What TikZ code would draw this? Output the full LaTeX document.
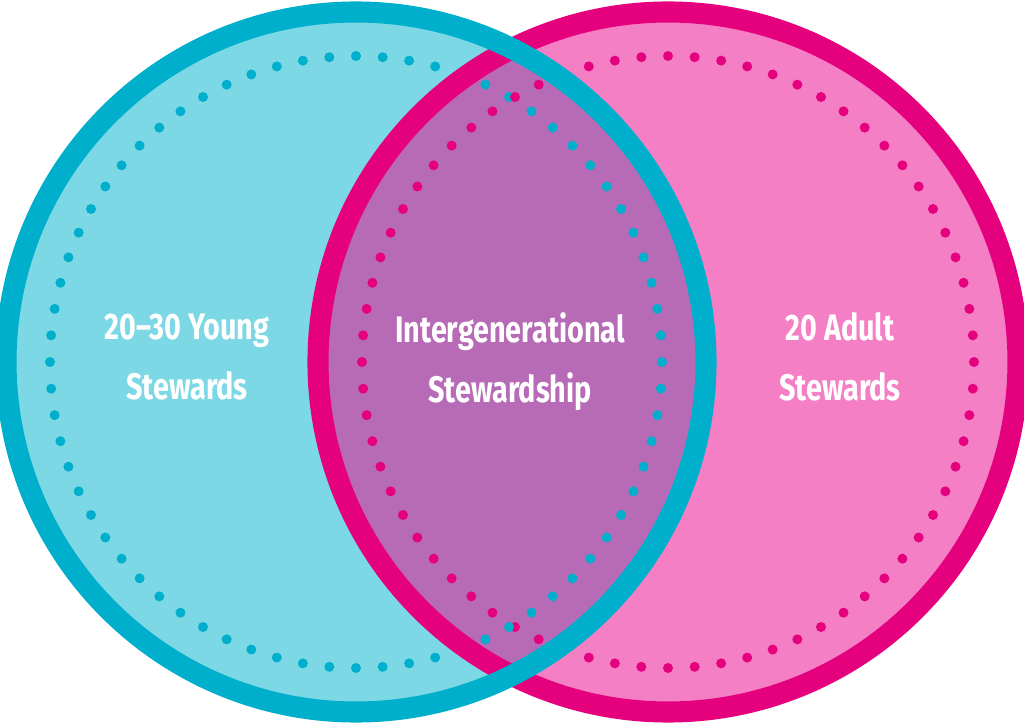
\documentclass[tikz,border=0pt]{standalone}
\usepackage{fontspec}
\setmainfont{Fira Sans}
\usetikzlibrary{calc}
\definecolor{cyanring}{HTML}{00AFCB}
\definecolor{cyanfill}{HTML}{7DD8E6}
\definecolor{pinkring}{HTML}{E5007E}
\definecolor{pinkfill}{HTML}{F47FC4}
\definecolor{midfill}{HTML}{B76BB7}
\begin{document}
\begin{tikzpicture}[label/.style = {text=white, font=\bfseries\fontsize{21}{34}\selectfont, align=center, xscale=0.78, transform shape},
                    ring/.style = {line width=12pt}]
        \useasboundingbox (0,0) rectangle (20.48,14.48);
        \coordinate (lc) at (7.12,7.24);
        \coordinate (rc) at (13.36,7.24);
        \fill[cyanfill] (lc) circle (7.0);
        \fill[pinkfill] (rc) circle (7.0);
        \begin{scope}
            \clip (lc) circle (7.0);
            \fill[midfill] (rc) circle (7.0);
        \end{scope}
        % dotted rings
        \foreach \a in {0,5,...,355} {
            \fill[pinkring] ($(rc)+(\a:6.12)$) circle (0.1);
            \fill[cyanring] ($(lc)+(\a:6.12)$) circle (0.1);
        }
        \draw[ring, pinkring] (rc) circle (7.0);
        \draw[ring, cyanring] (lc) circle (7.0);
        \node[label] (young) at (3.74,7.34) {20–30 Young\\Stewards};
        \node[label] (inter) at (10.2,7.24) {Intergenerational\\Stewardship};
        \node[label] (adult) at (16.8,7.34) {20 Adult\\Stewards};
    \end{tikzpicture}
\end{document}
